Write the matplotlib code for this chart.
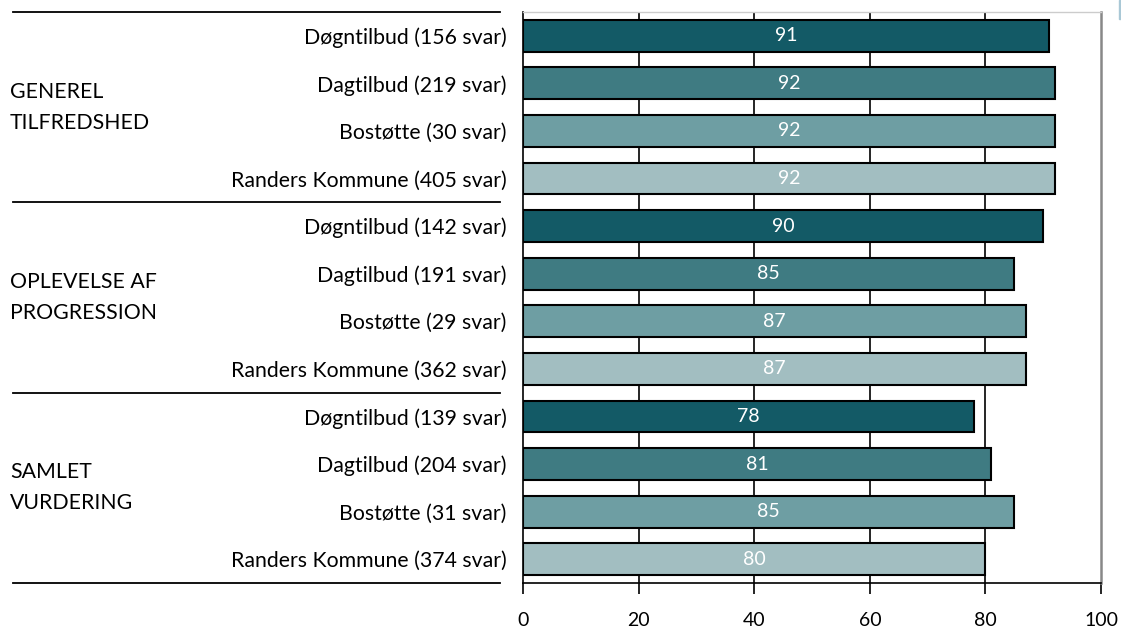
import matplotlib
matplotlib.use('Agg')
import matplotlib.pyplot as plt
import matplotlib.transforms as mtransforms
from matplotlib.patches import Rectangle

plt.rcParams['font.family'] = ['Lato', 'DejaVu Sans']

# Survey results, one row per bar, top to bottom
groups = ['GENEREL\nTILFREDSHED', 'OPLEVELSE AF\nPROGRESSION', 'SAMLET\nVURDERING']
labels = [
    'Døgntilbud (156 svar)', 'Dagtilbud (219 svar)', 'Bostøtte (30 svar)', 'Randers Kommune (405 svar)',
    'Døgntilbud (142 svar)', 'Dagtilbud (191 svar)', 'Bostøtte (29 svar)', 'Randers Kommune (362 svar)',
    'Døgntilbud (139 svar)', 'Dagtilbud (204 svar)', 'Bostøtte (31 svar)', 'Randers Kommune (374 svar)',
]
values = [91, 92, 92, 92,
          90, 85, 87, 87,
          78, 81, 85, 80]
x_ticks = [0, 20, 40, 60, 80, 100]

colors = ['#135a66', '#3f7b82', '#6e9ea3', '#a2bec1']

fig = plt.figure(figsize=(11.21, 6.29), dpi=100)
ax = fig.add_axes([0.4666, 0.0731, 0.5156, 0.9078])

y = list(range(len(values)))
bar_colors = [colors[i % 4] for i in y]
ax.barh(y, values, height=0.67, color=bar_colors, edgecolor='black', linewidth=1.5, zorder=3)

for yi, v in zip(y, values):
    ax.text(v / 2, yi, str(v), color='white', fontsize=14, ha='center', va='center', zorder=4)

ax.set_xlim(0, 100)
ax.set_ylim(len(values) - 0.5, -0.5)
ax.set_xticks(x_ticks)
ax.set_xticklabels([str(t) for t in x_ticks], fontsize=14)
ax.tick_params(axis='x', direction='out', length=8, width=1.2, pad=13)
ax.set_yticks(y)
ax.set_yticklabels(labels, fontsize=15.3)
ax.tick_params(axis='y', length=0, pad=12)

# vertical gridlines
for t in x_ticks[1:-1]:
    ax.axvline(t, color='black', linewidth=1.2, zorder=1)

ax.spines['left'].set_linewidth(1.2)
ax.spines['bottom'].set_linewidth(1.2)
ax.spines['right'].set_color('#888888')
ax.spines['right'].set_linewidth(1.8)
ax.spines['top'].set_color('#cccccc')
ax.spines['top'].set_linewidth(1.0)

# group separators and group names on the left
trans = mtransforms.blended_transform_factory(ax.transAxes, ax.transData)
for b in [-0.5, 3.5, 7.5, 11.5]:
    ax.plot([-0.882, -0.040], [b, b], color='black', linewidth=1.3,
            transform=trans, clip_on=False)
for gi, g in enumerate(groups):
    ax.text(-0.8875, gi * 4 + 1.5, g, transform=trans, ha='left', va='center',
            fontsize=15.3, linespacing=1.7)

# small accent at the top right corner
fig.patches.append(Rectangle((0.9982, 0.97), 0.0018, 0.03, transform=fig.transFigure,
                             color='#a9c8d6', zorder=0))

fig.savefig('out.png', dpi=100)
